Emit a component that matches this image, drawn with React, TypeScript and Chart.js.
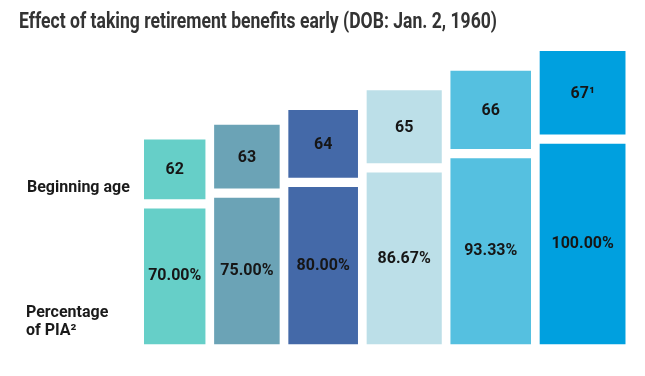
import React, { useEffect, useRef } from "react";
import { Chart, registerables } from "chart.js";

Chart.register(...registerables);

// ---- data ----
const ageLabels = ["62", "63", "64", "65", "66", "67\u00B9"];
const pctValues = [70, 75, 80, 86.67, 93.33, 100];
const barColors = ["#66cfc8", "#6ba3b6", "#4469a8", "#bcdfe8", "#55c0e0", "#00a0df"];

const TITLE = "Effect of taking retirement benefits early (DOB: Jan. 2, 1960)";
const ROW_LABEL_AGE = "Beginning age";
const ROW_LABEL_PCT = ["Percentage", "of PIA\u00B2"];

// ---- layout constants (units of the hidden scales) ----
const WIDTH_PAD = 5; // column width = pct + pad
const GAP_X = 10.6; // gap between columns
const Y_MIN = 6.8; // value axis minimum
const Y_MAX = 143.6;
const GAP_Y = 4.3; // gap between percentage box and age box
const AGE_BOX_K = 0.37; // age box height factor

const widths = pctValues.map((p) => p + WIDTH_PAD);
const centers: number[] = [];
{
  let left = 0;
  widths.forEach((w) => {
    centers.push(left + w / 2);
    left += w + GAP_X;
  });
}
const totalX = widths.reduce((a, b) => a + b, 0) + GAP_X * (widths.length - 1);
let minGap = Infinity;
for (let i = 1; i < centers.length; i++) minGap = Math.min(minGap, centers[i] - centers[i - 1]);

const labelPlugin = {
  id: "labels",
  afterDatasetsDraw(chart: any) {
    const ctx = chart.ctx;
    ctx.save();
    ctx.fillStyle = "#161616";
    ctx.font = "bold 16px Roboto";
    ctx.textAlign = "center";
    ctx.textBaseline = "middle";
    chart.data.datasets.forEach((ds: any, i: number) => {
      const meta = chart.getDatasetMeta(i);
      const pctEl = meta.data[0];
      const ageEl = meta.data[1];
      if (pctEl) {
        ctx.fillText(pctValues[i].toFixed(2) + "%", pctEl.x, (pctEl.y + pctEl.base) / 2);
      }
      if (ageEl) {
        ctx.fillText(ageLabels[i], ageEl.x, (ageEl.y + ageEl.base) / 2 + 1);
      }
    });
    // title
    ctx.textAlign = "left";
    ctx.textBaseline = "alphabetic";
    ctx.fillStyle = "#333333";
    ctx.font = "bold 22px Roboto";
    ctx.fillText(TITLE, 19, 28, 478);
    // row labels
    ctx.fillStyle = "#1a1a1a";
    ctx.font = "bold 16px Roboto";
    ctx.fillText(ROW_LABEL_AGE, 27, 192);
    ctx.fillText(ROW_LABEL_PCT[0], 26, 317);
    ctx.fillText(ROW_LABEL_PCT[1], 26, 335);
    ctx.restore();
  },
};

export default function App() {
  const ref = useRef<HTMLCanvasElement | null>(null);
  useEffect(() => {
    document.body.style.margin = "0";
    if (!ref.current) return;
    const datasets = pctValues.map((p, i) => {
      const lo = p + GAP_Y;
      const hi = lo + widths[i] * AGE_BOX_K;
      return {
        label: ageLabels[i],
        data: [
          { x: centers[i], y: [Y_MIN, p] },
          { x: centers[i], y: [lo, hi] },
        ],
        backgroundColor: barColors[i],
        borderWidth: 0,
        grouped: false,
        categoryPercentage: 1,
        barPercentage: widths[i] / minGap,
      };
    });
    const chart = new Chart(ref.current, {
      type: "bar",
      data: { datasets } as any,
      plugins: [labelPlugin],
      options: {
        animation: false,
        responsive: false,
        devicePixelRatio: 1,
        layout: { padding: { left: 144, right: 19.3, top: 50, bottom: 31.5 } },
        plugins: { legend: { display: false }, tooltip: { enabled: false }, title: { display: false } },
        scales: {
          x: {
            type: "linear",
            display: false,
            offset: false,
            min: 0,
            max: totalX,
            bounds: "data",
            ticks: { stepSize: 10000 },
          },
          y: {
            type: "linear",
            display: false,
            beginAtZero: false,
            min: Y_MIN,
            max: Y_MAX,
            ticks: { stepSize: 10000 },
          },
        },
      } as any,
    });
    return () => chart.destroy();
  }, []);
  return (
    <div style={{ width: 645, height: 376, background: "#fff" }}>
      <canvas ref={ref} width={645} height={376} style={{ display: "block" }} />
    </div>
  );
}
